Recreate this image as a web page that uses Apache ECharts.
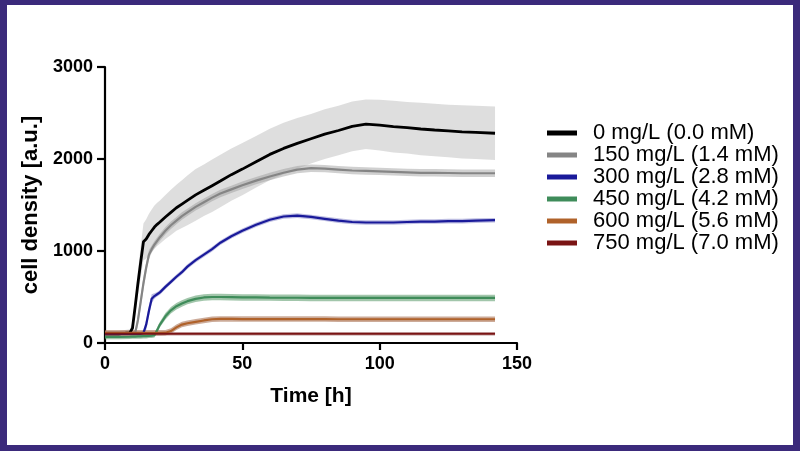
<!DOCTYPE html>
<html>
<head>
<meta charset="utf-8">
<script src="https://cdn.jsdelivr.net/npm/echarts@6/dist/echarts.min.js"></script>
<style>
html,body{margin:0;padding:0;background:#fff;}
#chart{position:absolute;left:0;top:0;width:800px;height:451px;}
#frame{position:absolute;left:0;top:0;width:800px;height:451px;box-sizing:border-box;border-style:solid;border-color:#3b2a7b;border-width:5px 7px 6px 7px;pointer-events:none;}
</style>
</head>
<body>
<div id="chart"></div>
<div id="frame"></div>
<script>
// ---- data ----
const time = [0,5,9,10,11,12,13,14,15,16,17,18,19,20,22,24,26,28,30,33,36,39,42,46,50,55,60,65,70,75,80,85,90,95,100,105,110,115,120,125,130,135,142];

const names = ['0 mg/L (0.0 mM)','150 mg/L (1.4 mM)','300 mg/L (2.8 mM)','450 mg/L (4.2 mM)','600 mg/L (5.6 mM)','750 mg/L (7.0 mM)'];

const mean0 = [100,100,110,160,400,650,880,1100,1130,1180,1220,1260,1290,1315,1370,1420,1470,1510,1550,1610,1660,1710,1760,1830,1890,1970,2050,2115,2170,2220,2270,2310,2355,2378,2368,2352,2340,2326,2315,2305,2295,2290,2280];
const err0  = [30,30,40,60,90,130,170,200,215,225,230,235,235,235,240,245,250,260,270,280,280,285,285,285,285,280,280,280,275,270,270,270,270,270,275,280,280,285,285,285,290,290,290];

const mean150 = [100,100,100,100,110,250,450,650,820,960,1020,1070,1110,1150,1220,1280,1330,1380,1420,1480,1530,1580,1625,1670,1715,1765,1810,1850,1885,1900,1895,1885,1875,1870,1865,1860,1855,1850,1850,1848,1845,1845,1845];
const err150  = [25,25,25,25,40,60,70,70,60,50,40,40,40,40,40,40,40,40,40,40,40,40,40,40,40,40,40,40,40,40,40,40,40,40,40,40,40,40,40,40,40,40,40];

const mean300 = [100,100,100,100,100,100,100,110,200,350,480,510,530,550,610,665,720,770,830,900,960,1020,1090,1160,1220,1285,1340,1375,1385,1370,1350,1330,1315,1310,1310,1310,1315,1320,1320,1325,1325,1330,1335];
const err300  = [25,25,25,25,25,25,25,30,60,60,50,30,25,25,25,25,25,25,25,25,25,25,25,25,25,25,25,25,25,25,25,25,25,25,25,25,25,25,25,25,25,25,25];

const mean450 = [65,65,68,70,70,72,72,74,75,78,80,85,140,200,290,355,400,430,455,480,495,500,500,498,495,495,493,492,492,490,490,490,490,490,490,490,490,490,490,490,490,490,490];
const err450  = [25,25,25,25,25,25,25,25,25,25,25,25,30,30,35,35,35,35,35,35,35,35,35,35,35,35,35,35,35,35,35,35,35,35,35,35,35,35,35,35,35,35,35];

const mean600 = [110,110,110,110,110,110,110,110,110,110,110,110,110,110,112,130,170,200,215,230,245,258,262,262,260,260,260,260,260,260,260,258,258,258,258,258,258,258,258,258,258,258,258];
const err600  = [30,30,30,30,30,30,30,30,30,30,30,30,30,30,30,30,30,30,30,30,30,30,30,30,30,30,30,30,30,30,30,30,30,30,30,30,30,30,30,30,30,30,30];

const mean750 = [100,100,100,100,100,100,100,100,100,100,100,100,100,100,100,100,100,100,100,100,100,100,100,100,100,100,100,100,100,100,100,100,100,100,100,100,100,100,100,100,100,100,100];
const err750  = [20,20,20,20,20,20,20,20,20,20,20,20,20,20,20,20,20,20,20,20,20,20,20,20,20,20,20,20,20,20,20,20,20,20,20,20,20,20,20,20,20,20,20];

const xTicks = [0,50,100,150];
const yTicks = [0,1000,2000,3000];

// ---- styles ----
const lineColors = ['#000000','#858585','#1a1a9a','#3f8c5a','#b0622a','#7a1414'];
const bandColors = ['rgba(200,200,200,0.6)','rgba(150,150,150,0.45)','rgba(110,110,190,0.45)','rgba(100,160,115,0.6)','rgba(170,115,85,0.6)','rgba(170,120,120,0.5)'];
const lineWidths = [2.8,2.2,2.2,2.2,2.2,2.0];
const means = [mean0,mean150,mean300,mean450,mean600,mean750];
const errs = [err0,err150,err300,err450,err600,err750];

const FONT = '"Liberation Sans", Arial, Helvetica, sans-serif';
const series = [];
means.forEach((m, i) => {
  const data = time.map((t, k) => [t, m[k] - errs[i][k], m[k] + errs[i][k]]);
  series.push({
    type:'custom', name:'band'+i, silent:true, z:1,
    encode:{x:0, y:[1,2]},
    data: data,
    renderItem: function (params, api) {
      if (params.dataIndex !== 0) return null;
      const pts = [];
      for (let k = 0; k < data.length; k++) pts.push(api.coord([data[k][0], data[k][2]]));
      for (let k = data.length - 1; k >= 0; k--) pts.push(api.coord([data[k][0], data[k][1]]));
      return {type:'polygon', shape:{points:pts}, style:{fill:bandColors[i], stroke:null}};
    }
  });
});
means.forEach((m, i) => {
  series.push({
    type:'line', name:names[i], symbol:'none', z:3,
    itemStyle:{color:lineColors[i]},
    lineStyle:{color:lineColors[i], width:lineWidths[i]},
    data: time.map((t, k) => [t, m[k]])
  });
});

const plain = v => String(v);
const chart = echarts.init(document.getElementById('chart'), null, {renderer:'canvas'});
chart.setOption({
  animation:false,
  backgroundColor:'#ffffff',
  grid:{left:105, top:67, width:412, height:276},
  legend:{
    data:names, orient:'vertical', left:547, top:122, padding:0,
    icon:'rect', itemWidth:30, itemHeight:5, itemGap:0,
    textStyle:{fontFamily:FONT, fontSize:22, lineHeight:21, color:'#000', padding:[0,0,0,11]}
  },
  xAxis:{
    type:'value', min:xTicks[0], max:xTicks[xTicks.length-1], interval:50,
    name:'Time [h]', nameLocation:'middle', nameGap:43,
    nameTextStyle:{fontFamily:FONT, fontSize:21, fontWeight:'bold', color:'#000'},
    axisLine:{show:true, onZero:false, lineStyle:{color:'#000', width:2.2}},
    axisTick:{show:true, length:7, lineStyle:{color:'#000', width:2.2}},
    axisLabel:{fontFamily:FONT, fontSize:18, fontWeight:'bold', color:'#000', margin:12, formatter:plain},
    splitLine:{show:false}
  },
  yAxis:{
    type:'value', min:yTicks[0], max:yTicks[yTicks.length-1], interval:1000,
    name:'cell density [a.u.]', nameLocation:'middle', nameGap:58, nameRotate:90,
    nameTextStyle:{fontFamily:FONT, fontSize:22, fontWeight:'bold', color:'#000'},
    axisLine:{show:true, onZero:false, lineStyle:{color:'#000', width:2.2}},
    axisTick:{show:true, length:8, lineStyle:{color:'#000', width:2.2}},
    axisLabel:{fontFamily:FONT, fontSize:18, fontWeight:'bold', color:'#000', margin:12, formatter:plain},
    splitLine:{show:false}
  },
  series: series
});
</script>
</body>
</html>
